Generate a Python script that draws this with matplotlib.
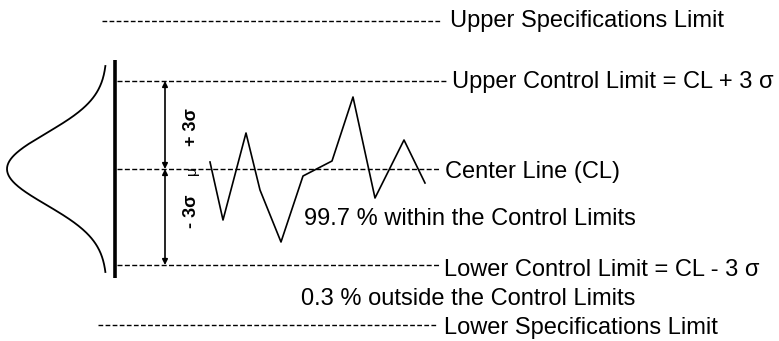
import numpy as np
import matplotlib
matplotlib.use("Agg")
import matplotlib.pyplot as plt

# Process readings plotted between the control limits (pixel-like canvas units)
sample_x = [210, 223, 246, 260, 281, 303, 332, 353, 375, 404, 425]
sample_y = [162, 220, 133, 190, 242, 176, 161, 97, 198, 140, 183]

# Reference levels (canvas y) and their labels
center_line = 169
upper_control = 81
lower_control = 265
upper_spec = 21
lower_spec = 325

labels = {
    "usl": "Upper Specifications Limit",
    "ucl": "Upper Control Limit = CL + 3 \u03c3",
    "cl": "Center Line (CL)",
    "lcl": "Lower Control Limit = CL - 3 \u03c3",
    "lsl": "Lower Specifications Limit",
    "within": "99.7 % within the Control Limits",
    "outside": "0.3 % outside the Control Limits",
}

W, H = 779, 341
fig = plt.figure(figsize=(W / 100, H / 100), dpi=100)
ax = fig.add_axes([0, 0, 1, 1])
ax.set_xlim(0, W)
ax.set_ylim(H, 0)
ax.axis("off")

font = "Liberation Sans"
fs = 17
dash = (0, (3.6, 1.7))
dash_s = (0, (3.4, 1.7))

# Specification limits
ax.plot([102, 441], [upper_spec, upper_spec], color="black", lw=1.0, linestyle=dash_s)
ax.text(450, 27, labels["usl"], family=font, fontsize=fs, va="baseline", ha="left")
ax.plot([98, 438], [lower_spec, lower_spec], color="black", lw=1.0, linestyle=dash_s)
ax.text(444, 334, labels["lsl"], family=font, fontsize=fs, va="baseline", ha="left")

# Control limits and center line
ax.plot([117, 447], [upper_control] * 2, color="black", lw=1.0, linestyle=dash)
ax.text(452, 88, labels["ucl"], family=font, fontsize=fs, va="baseline", ha="left")
ax.plot([117, 440], [center_line] * 2, color="black", lw=1.0, linestyle=dash)
ax.text(445, 178, labels["cl"], family=font, fontsize=fs, va="baseline", ha="left")
ax.plot([117, 440], [lower_control] * 2, color="black", lw=1.0, linestyle=dash)
ax.text(444, 276, labels["lcl"], family=font, fontsize=fs, va="baseline", ha="left")

ax.text(304, 225, labels["within"], family=font, fontsize=fs, va="baseline", ha="left")
ax.text(301, 305, labels["outside"], family=font, fontsize=fs, va="baseline", ha="left")

# Vertical axis bar
ax.plot([115, 115], [60, 278], color="black", lw=2.6, solid_capstyle="butt")

# Normal distribution curve on its side
t = np.linspace(-3.3, 3.3, 300)
span = (272 - 66) / 6.6
cy = center_line + t * span
cx = 107 - 100 * np.exp(-0.5 * (t / 1.15) ** 2)
ax.plot(cx, cy, color="black", lw=1.3)

# Sigma arrows
arrow = dict(arrowstyle="<|-|>", color="black", lw=1.2, mutation_scale=8,
             shrinkA=0, shrinkB=0)
ax.annotate("", xy=(165, upper_control), xytext=(165, center_line), arrowprops=arrow)
ax.annotate("", xy=(165, center_line), xytext=(165, lower_control), arrowprops=arrow)

ax.text(192, 127, "+ 3\u03c3", family=font, fontsize=13, fontweight="bold",
        rotation=90, va="center", ha="center")
ax.text(192, center_line + 2, "\u03bc", family=font, fontsize=11,
        rotation=90, va="center", ha="center")
ax.text(192, 211, "- 3\u03c3", family=font, fontsize=13, fontweight="bold",
        rotation=90, va="center", ha="center")

# Process line
ax.plot(sample_x, sample_y, color="black", lw=1.2)

fig.savefig("out.png", dpi=100)
